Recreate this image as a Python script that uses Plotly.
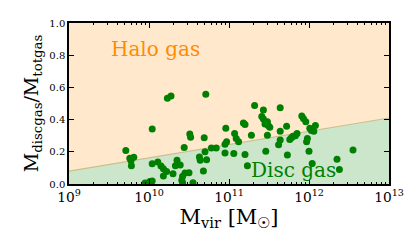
import plotly.graph_objects as go

# Data (log10 Mvir, disc gas fraction)
log_mvir = [9.71, 9.76, 9.81, 9.775, 9.78, 10.04, 10.23, 10.275, 10.71, 10.04,
            10.11, 10.15, 10.18, 10.22, 10.18, 10.30, 10.33, 10.35, 10.39, 10.44,
            10.51, 10.52, 10.69, 10.70, 10.78, 10.84, 10.63, 10.64, 10.72, 10.68,
            10.45, 10.50, 10.42, 10.41, 10.55, 9.95, 10.01, 10.04, 10.42, 10.96,
            10.95, 10.97, 10.95, 11.06, 11.09, 11.12, 11.07, 11.32, 11.43, 11.64,
            11.41, 11.43, 11.45, 11.49, 11.51, 11.18, 11.20, 11.48, 11.28, 11.48,
            11.64, 11.72, 11.64, 11.62, 11.78, 11.80, 11.85, 11.20, 11.46, 11.73,
            11.23, 11.91, 11.93, 11.96, 12.01, 12.03, 12.08, 12.06, 11.83, 11.76,
            11.98, 11.97, 12.00, 12.04, 12.35, 12.55, 12.38]
disc_frac = [0.208, 0.160, 0.166, 0.145, 0.114, 0.341, 0.533, 0.547, 0.557, 0.126,
             0.136, 0.112, 0.094, 0.078, 0.050, 0.064, 0.114, 0.148, 0.118, 0.226,
             0.310, 0.290, 0.287, 0.200, 0.223, 0.223, 0.168, 0.148, 0.150, 0.080,
             0.068, 0.070, 0.048, 0.024, 0.008, 0.006, 0.016, 0.018, 0.008, 0.347,
             0.247, 0.263, 0.193, 0.190, 0.283, 0.263, 0.313, 0.487, 0.459, 0.473,
             0.419, 0.403, 0.373, 0.363, 0.353, 0.379, 0.370, 0.387, 0.303, 0.303,
             0.327, 0.359, 0.274, 0.244, 0.287, 0.297, 0.313, 0.184, 0.204, 0.180,
             0.114, 0.423, 0.407, 0.387, 0.347, 0.333, 0.363, 0.327, 0.300, 0.277,
             0.283, 0.263, 0.204, 0.128, 0.154, 0.211, 0.090]

mvir = [10 ** v for v in log_mvir]

# Dividing line
line_x = [1e9, 1e13]
line_y = [0.08, 0.41]
top_y = [1.0, 1.0]

fig = go.Figure()
fig.add_trace(go.Scatter(x=line_x, y=line_y, mode="lines",
                         line=dict(color="#c9bf8a", width=1.2),
                         fill="tozeroy", fillcolor="#cce6cc", hoverinfo="skip"))
fig.add_trace(go.Scatter(x=line_x, y=top_y, mode="lines",
                         line=dict(width=0, color="rgba(0,0,0,0)"),
                         fill="tonexty", fillcolor="#ffe8cc", hoverinfo="skip"))
fig.add_trace(go.Scatter(x=mvir, y=disc_frac, mode="markers",
                         marker=dict(color="#008000", size=7, line=dict(width=0))))

font_serif = "DejaVu Serif"
fig.add_annotation(x=10.075, y=0.838, xref="x", yref="y", text="Halo gas",
                   showarrow=False, font=dict(family=font_serif, size=20, color="#ff8c00"))
fig.add_annotation(x=11.806, y=0.084, xref="x", yref="y", text="Disc gas",
                   showarrow=False, font=dict(family=font_serif, size=20, color="#008000"))

# page body has an 8px default margin, so the figure is sized to fit the window
fig.update_layout(
    width=407, height=241,
    margin=dict(l=61, r=26, t=9, b=65),
    paper_bgcolor="white", plot_bgcolor="white",
    showlegend=False,
    font=dict(family=font_serif, size=10, color="black"),
)
fig.update_xaxes(type="log", range=[9, 13], dtick=1, exponentformat="power",
                 showgrid=False, zeroline=False,
                 showline=True, linecolor="black", linewidth=1.5, mirror="ticks",
                 ticks="inside", ticklen=5, tickcolor="black",
                 minor=dict(ticks="inside", ticklen=2.5, tickcolor="black", showgrid=False),
                 tickfont=dict(size=11),
                 title=dict(text="M<sub>vir</sub> [M<sub>☉</sub>]",
                            font=dict(size=21), standoff=5))
fig.update_yaxes(range=[0, 1], dtick=0.2, tickformat=".1f",
                 showgrid=False, zeroline=False,
                 showline=True, linecolor="black", linewidth=1.5, mirror="ticks",
                 ticks="inside", ticklen=5, tickcolor="black",
                 tickfont=dict(size=10),
                 title=dict(text="M<sub>discgas</sub>/M<sub>totgas</sub>",
                            font=dict(size=19), standoff=6))

fig.write_html("out.html")
